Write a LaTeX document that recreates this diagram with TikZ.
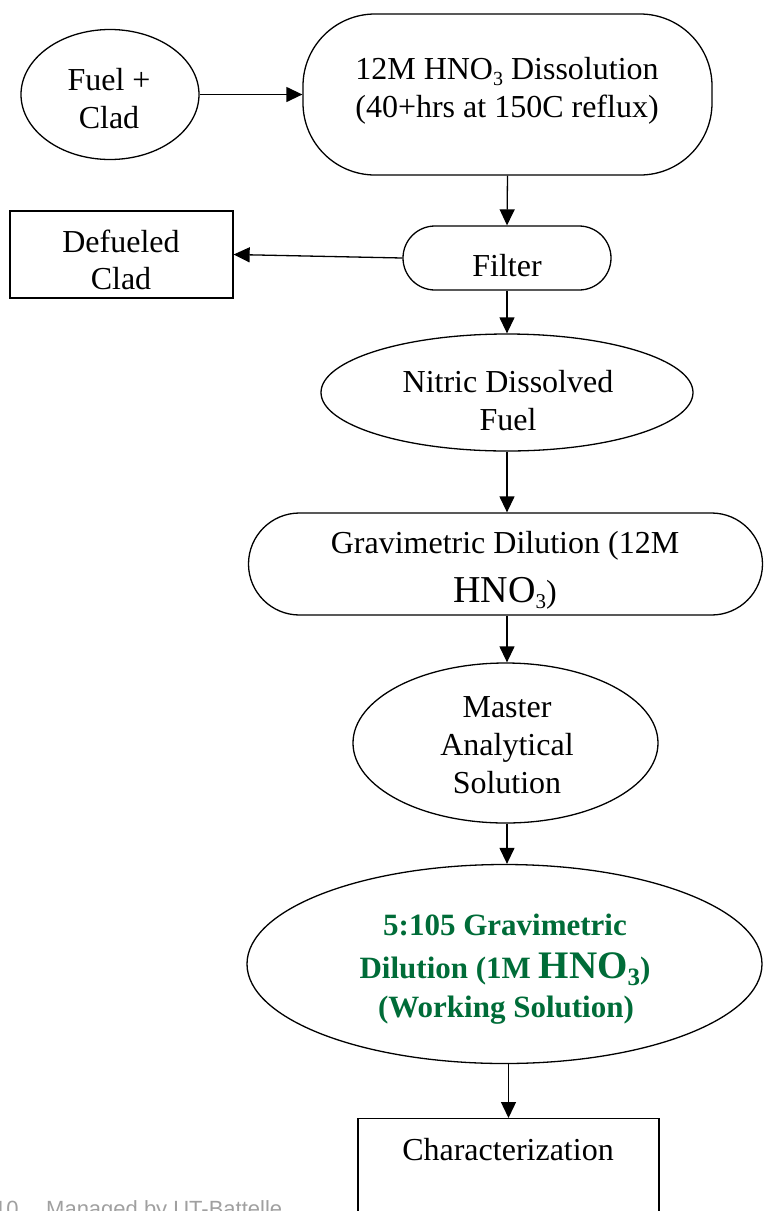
\documentclass[tikz,border=0pt]{standalone}
\usepackage{fontspec}
\setmainfont{Liberation Serif}
\newfontfamily\footfont{Liberation Sans}
\usetikzlibrary{shapes.geometric,arrows.meta}
\definecolor{dgreen}{RGB}{0,108,56}
\definecolor{footgray}{RGB}{160,160,160}
\newcommand{\subdigit}[3]{\raisebox{-#2}{\fontsize{#1}{#1}\selectfont #3}}
\begin{document}
\begin{tikzpicture}[x=1pt,y=-1pt,
  box/.style={draw=black, line width=1.3pt, inner sep=0pt},
  txt/.style={anchor=base, inner sep=0pt, font=\fontsize{32}{38}\selectfont},
  gtxt/.style={anchor=base, inner sep=0pt, text=dgreen, font=\bfseries\fontsize{31}{38}\selectfont},
  arr/.style={line width=1.3pt, -{Triangle[length=16pt,width=15pt]}}]
\useasboundingbox (0,0) rectangle (764,1211);

% shapes
\node[box, ellipse, minimum width=178pt, minimum height=130pt] (fuel) at (110,94.5) {};
\node[box, rectangle, rounded corners=72pt, minimum width=409pt, minimum height=161pt] (diss) at (507.5,94.5) {};
\node[box, rectangle, minimum width=223pt, minimum height=87pt] (defueled) at (121.5,254.5) {};
\node[box, rectangle, rounded corners=32pt, minimum width=208pt, minimum height=64pt] (filter) at (507,258) {};
\node[box, ellipse, minimum width=372pt, minimum height=117pt] (nitric) at (507,392.5) {};
\node[box, rectangle, rounded corners=51pt, minimum width=514pt, minimum height=102pt] (grav) at (505.5,564) {};
\node[box, ellipse, minimum width=305pt, minimum height=160pt] (master) at (505.5,743) {};
\node[box, ellipse, minimum width=515pt, minimum height=199pt] (work) at (504.5,964) {};
\node[box, rectangle, minimum width=301pt, minimum height=200pt, anchor=north] (char) at (508.5,1118) {};

% texts
\node[txt] (fuelA) at (109,90) {Fuel +};
\node[txt] (fuelB) at (109,128) {Clad};
\node[txt] (dissA) at (507,79) {12M HNO\subdigit{20}{6.5pt}{3} Dissolution};
\node[txt] (dissB) at (507,117) {(40+hrs at 150C reflux)};
\node[txt] (defA) at (121,252) {Defueled};
\node[txt] (defB) at (121,289) {Clad};
\node[txt] (filterT) at (507,276) {Filter};
\node[txt] (nitA) at (508,392) {Nitric Dissolved};
\node[txt] (nitB) at (508,430) {Fuel};
\node[txt] (gravA) at (505,553) {Gravimetric Dilution (12M};
\node[txt] (gravB) at (505,602) {{\fontsize{38}{38}\selectfont HNO}\subdigit{21}{6pt}{3})};
\node[txt] (masA) at (507,717) {Master};
\node[txt] (masB) at (507,755) {Analytical};
\node[txt] (masC) at (507,793) {Solution};
\node[gtxt] (wA) at (505,935) {5:105 Gravimetric};
\node[gtxt] (wB) at (505,978) {Dilution (1M {\fontsize{39}{39}\selectfont HNO}\subdigit{25}{7pt}{3})};
\node[gtxt] (wC) at (506,1017) {(Working Solution)};
\node[txt] (charT) at (508,1160) {Characterization};

% footer
\node[anchor=base west, inner sep=0pt, text=footgray, font=\footfont\fontsize{22}{22}\selectfont] (pgnum) at (-6,1216) {10};
\node[anchor=base west, inner sep=0pt, text=footgray, font=\footfont\fontsize{22}{22}\selectfont] (footer) at (46,1216) {Managed by UT-Battelle};

% connectors
\draw[arr] (fuel.east) -- (fuel.east -| diss.west);
\draw[arr] (diss.south) -- (filter.north);
\draw[arr] (filter.west) -- (defueled.east);
\draw[arr] (filter.south) -- (nitric.north);
\draw[arr] (nitric.south) -- (nitric.south |- grav.north);
\draw[arr] (grav.south -| nitric.south) -- (nitric.south |- master.north);
\draw[arr] (nitric.south |- master.south) -- (nitric.south |- work.north);
\draw[arr] (char.north |- work.south) -- (char.north);
\end{tikzpicture}
\end{document}
